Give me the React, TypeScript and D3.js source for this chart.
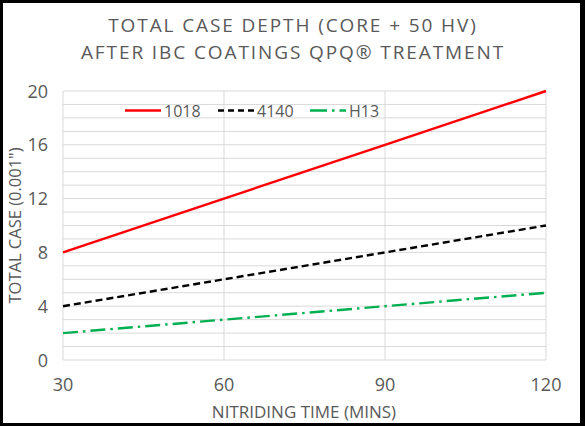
import React from "react"
import * as d3 from "d3"

const times = [30, 60, 90, 120]
const steel1018 = [8, 12, 16, 20]
const steel4140 = [4, 6, 8, 10]
const steelH13 = [2, 3, 4, 5]
const yTicks = [0, 4, 8, 12, 16, 20]
const xTicks = [30, 60, 90, 120]

const W = 585
const H = 426
const PLOT = { left: 63, right: 546, top: 91, bottom: 360 }
const FONT = "'Open Sans', 'Liberation Sans', sans-serif"
const GREY = "#595959"

const series = [
  { name: "1018", values: steel1018, color: "#ff0000", dash: "none", legendDash: "none" },
  { name: "4140", values: steel4140, color: "#000000", dash: "7,4", legendDash: "6,4" },
  { name: "H13", values: steelH13, color: "#00b050", dash: "15,5,2.5,5", legendDash: "17,5,2.5,5" },
]

export default function App() {
  const x = d3.scaleLinear().domain([30, 120]).range([PLOT.left, PLOT.right])
  const y = d3.scaleLinear().domain([0, 20]).range([PLOT.bottom, PLOT.top])
  const minor = d3.range(0, 21, 1)

  const line = (vals: number[]) =>
    d3.line<number>().x((_, i) => x(times[i])).y((d) => y(d))(vals) ?? ""

  const legendX = [125, 218, 310]

  return (
    <svg width={W} height={H} style={{ position: "absolute", left: 0, top: 0 }}>
      <rect x={0} y={0} width={W} height={H} fill="#000" />
      <rect x={3} y={3} width={577} height={420} fill="#fff" />

      {/* Title */}
      <text x={293} y={32} textAnchor="middle" fontFamily={FONT} fontSize={19} fill={GREY} letterSpacing={1.9}>
        TOTAL CASE DEPTH (CORE + 50 HV)
      </text>
      <text x={293} y={59} textAnchor="middle" fontFamily={FONT} fontSize={19} fill={GREY} letterSpacing={1.9}>
        AFTER IBC COATINGS QPQ® TREATMENT
      </text>

      {/* Gridlines */}
      {minor.map((v) => (
        <line key={"h" + v} x1={PLOT.left} x2={PLOT.right} y1={y(v)} y2={y(v)} stroke="#d9d9d9" strokeWidth={1} />
      ))}
      {xTicks.map((v) => (
        <line key={"v" + v} x1={x(v)} x2={x(v)} y1={PLOT.top} y2={PLOT.bottom} stroke="#d9d9d9" strokeWidth={1} />
      ))}

      {/* Axis labels */}
      {yTicks.map((v) => (
        <text key={"yt" + v} x={48} y={y(v) + 6.5} textAnchor="end" fontFamily={FONT} fontSize={18} fill={GREY}>
          {v}
        </text>
      ))}
      {xTicks.map((v) => (
        <text key={"xt" + v} x={x(v)} y={391} textAnchor="middle" fontFamily={FONT} fontSize={18} fill={GREY}>
          {v}
        </text>
      ))}
      <text x={304} y={418} textAnchor="middle" fontFamily={FONT} fontSize={17} fill={GREY}>
        NITRIDING TIME (MINS)
      </text>
      <text
        transform={`translate(21,${(PLOT.top + PLOT.bottom) / 2}) rotate(-90)`}
        textAnchor="middle"
        fontFamily={FONT}
        fontSize={16.5}
        fill={GREY}
      >
        TOTAL CASE (0.001")
      </text>

      {/* Series */}
      {series.map((s) => (
        <path key={s.name} d={line(s.values)} fill="none" stroke={s.color} strokeWidth={2.4} strokeDasharray={s.dash} />
      ))}

      {/* Legend */}
      {series.map((s, i) => (
        <g key={"lg" + s.name}>
          <line x1={legendX[i]} x2={legendX[i] + 36} y1={110.5} y2={110.5} stroke={s.color} strokeWidth={2.4} strokeDasharray={s.legendDash} />
          <text x={legendX[i] + 39} y={116.5} fontFamily={FONT} fontSize={16} fill={GREY}>
            {s.name}
          </text>
        </g>
      ))}
    </svg>
  )
}
